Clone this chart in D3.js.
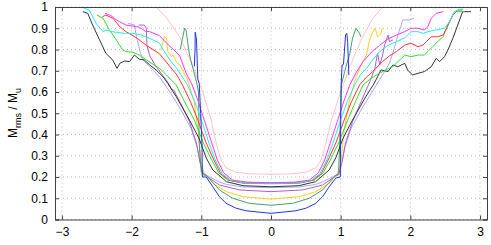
<!DOCTYPE html>
<html>
<head>
<meta charset="utf-8">
<script src="https://cdn.jsdelivr.net/npm/d3@7"></script>
<style>
  body { margin: 0; background: #fff; }
  svg text { font-family: "Liberation Sans", Arial, sans-serif; font-size: 12px; fill: #000; }
</style>
</head>
<body>
<svg id="chart" width="491" height="245"></svg>
<script>
// tick values
let xTicks = [-3, -2, -1, 0, 1, 2, 3];
let yTicks = [0, 0.1, 0.2, 0.3, 0.4, 0.5, 0.6, 0.7, 0.8, 0.9, 1];

// one profile per run, [x, Mrms/Mu]
let pinkRun = [[-1.65,1.0],[-1.5,0.95],[-1.31,0.86],[-1.12,0.72],[-0.98,0.6],[-0.86,0.47],[-0.78,0.35],[-0.715,0.28],[-0.65,0.245],[-0.5,0.222],[-0.3,0.215],[0,0.213],
  [0.3,0.215],[0.5,0.222],[0.65,0.245],[0.72,0.28],[0.79,0.36],[0.87,0.47],[1.0,0.6],[1.12,0.71],[1.3,0.85],[1.45,0.94],[1.6,1.0]];

let magentaRun = [[-2.38,0.97],[-2.3,0.96],[-2.22,0.94],[-2.17,0.93],[-2.08,0.915],[-1.98,0.91],[-1.89,0.905],[-1.8,0.885],[-1.74,0.884],[-1.6,0.865],[-1.5,0.83],[-1.4,0.8],[-1.31,0.77],[-1.22,0.69],[-1.13,0.633],[-1.05,0.56],[-0.96,0.47],[-0.86,0.37],[-0.77,0.28],[-0.68,0.22],[-0.55,0.185],[-0.35,0.176],[0,0.173],
  [0.35,0.176],[0.55,0.185],[0.68,0.22],[0.77,0.28],[0.86,0.37],[0.96,0.47],[1.05,0.56],[1.13,0.633],[1.22,0.69],[1.32,0.743],[1.45,0.79],[1.56,0.82],[1.68,0.85],[1.8,0.868],[1.92,0.884],[2.01,0.9],[2.11,0.9],[2.2,0.892],[2.25,0.907],[2.3,0.947],[2.37,0.97],[2.47,0.978]];

let cyanRun = [[-2.72,1.0],[-2.61,0.986],[-2.51,0.923],[-2.45,0.9],[-2.41,0.884],[-2.37,0.892],[-2.3,0.885],[-2.2,0.88],[-2.1,0.876],[-1.98,0.876],[-1.88,0.87],[-1.79,0.86],[-1.6,0.83],[-1.55,0.8],[-1.45,0.75],[-1.35,0.71],[-1.27,0.67],[-1.2,0.633],[-1.1,0.56],[-1.0,0.47],[-0.9,0.37],[-0.8,0.28],[-0.7,0.215],[-0.58,0.185],[-0.4,0.172],[0,0.17],
  [0.4,0.172],[0.58,0.185],[0.7,0.215],[0.8,0.28],[0.9,0.37],[1.0,0.47],[1.1,0.56],[1.2,0.633],[1.28,0.68],[1.37,0.711],[1.47,0.755],[1.56,0.79],[1.68,0.82],[1.8,0.837],[1.92,0.855],[2.01,0.884],[2.11,0.884],[2.18,0.876],[2.25,0.884],[2.37,0.892],[2.49,0.9],[2.56,0.93],[2.63,0.978],[2.71,0.99],[2.76,0.99]];

let redRun = [[-2.42,0.954],[-2.37,0.962],[-2.27,0.947],[-2.17,0.907],[-2.08,0.884],[-1.93,0.855],[-1.79,0.82],[-1.6,0.78],[-1.45,0.72],[-1.35,0.68],[-1.27,0.633],[-1.15,0.55],[-1.05,0.468],[-0.93,0.36],[-0.82,0.28],[-0.72,0.215],[-0.6,0.185],[-0.4,0.172],[0,0.17],
  [0.4,0.172],[0.6,0.185],[0.72,0.215],[0.82,0.28],[0.93,0.36],[1.05,0.468],[1.15,0.55],[1.27,0.633],[1.37,0.67],[1.46,0.696],[1.6,0.743],[1.7,0.77],[1.8,0.79],[1.92,0.821],[2.01,0.829],[2.11,0.813],[2.18,0.821],[2.23,0.837],[2.3,0.86],[2.39,0.86],[2.47,0.868],[2.54,0.915],[2.61,0.962],[2.68,0.986],[2.75,0.986]];

let greenRun = [[-2.5,0.962],[-2.41,0.947],[-2.32,0.892],[-2.22,0.845],[-2.13,0.798],[-2.08,0.79],[-1.98,0.787],[-1.89,0.774],[-1.79,0.751],[-1.6,0.711],[-1.5,0.68],[-1.36,0.633],[-1.25,0.56],[-1.1,0.468],[-0.97,0.36],[-0.85,0.28],[-0.75,0.22],[-0.62,0.185],[-0.4,0.171],[0,0.168],
  [0.4,0.171],[0.62,0.185],[0.75,0.22],[0.85,0.28],[0.97,0.36],[1.1,0.468],[1.22,0.56],[1.32,0.633],[1.42,0.66],[1.51,0.68],[1.65,0.704],[1.75,0.72],[1.87,0.758],[1.92,0.774],[2.01,0.766],[2.11,0.774],[2.2,0.774],[2.25,0.79],[2.32,0.813],[2.39,0.837],[2.47,0.86],[2.54,0.915],[2.61,0.962],[2.66,0.978],[2.78,0.978]];

let blackRun = [[-2.7,0.978],[-2.63,0.97],[-2.56,0.915],[-2.46,0.845],[-2.37,0.782],[-2.27,0.75],[-2.21,0.711],[-2.17,0.735],[-2.1,0.746],[-2.03,0.743],[-1.96,0.774],[-1.89,0.754],[-1.82,0.751],[-1.74,0.727],[-1.65,0.704],[-1.55,0.672],[-1.48,0.64],[-1.36,0.578],[-1.17,0.468],[-1.03,0.38],[-0.93,0.29],[-0.835,0.233],[-0.64,0.178],[-0.4,0.159],[0,0.154],
  [0.4,0.159],[0.64,0.178],[0.835,0.233],[0.93,0.29],[1.03,0.38],[1.17,0.468],[1.36,0.578],[1.48,0.64],[1.58,0.704],[1.68,0.696],[1.75,0.727],[1.82,0.719],[1.92,0.735],[1.96,0.704],[2.03,0.68],[2.11,0.688],[2.2,0.696],[2.3,0.719],[2.37,0.758],[2.42,0.743],[2.49,0.766],[2.54,0.798],[2.61,0.853],[2.68,0.915],[2.75,0.978],[2.87,0.978]];

let lightBlueRun = [[-2.05,0.923],[-1.96,0.915],[-1.93,0.86],[-1.88,0.79],[-1.84,0.751],[-1.74,0.719],[-1.6,0.67],[-1.45,0.6],[-1.3,0.52],[-1.15,0.43],[-1.06,0.34],[-1.01,0.26],[-0.97,0.215],[-0.88,0.2],[-0.75,0.178],[-0.64,0.165],[-0.4,0.153],[0,0.15],
  [0.4,0.153],[0.64,0.165],[0.75,0.178],[0.88,0.2],[0.97,0.215],[1.01,0.26],[1.06,0.34],[1.15,0.43],[1.3,0.52],[1.45,0.6],[1.6,0.68],[1.7,0.735],[1.77,0.806],[1.82,0.868],[1.87,0.915],[1.89,0.939],[1.99,0.939],[2.05,0.947]];

let purpleRun = [[-1.9,0.915],[-1.82,0.915],[-1.79,0.9],[-1.78,0.82],[-1.74,0.77],[-1.65,0.72],[-1.5,0.655],[-1.45,0.63],[-1.43,0.615],[-1.4,0.61],[-1.3,0.55],[-1.17,0.46],[-1.07,0.36],[-1.02,0.27],[-0.97,0.21],[-0.93,0.205],[-0.74,0.162],[-0.45,0.139],[0,0.131],
  [0.45,0.139],[0.74,0.162],[0.93,0.205],[0.97,0.21],[1.02,0.27],[1.07,0.36],[1.17,0.46],[1.3,0.56],[1.42,0.65],[1.49,0.711],[1.53,0.782],[1.56,0.727],[1.6,0.77],[1.63,0.821],[1.68,0.868],[1.7,0.837],[1.75,0.845]];

let yellowRun = [[-1.6,0.8],[-1.58,0.798],[-1.53,0.86],[-1.5,0.853],[-1.48,0.79],[-1.43,0.766],[-1.41,0.774],[-1.36,0.743],[-1.31,0.727],[-1.2,0.66],[-1.1,0.55],[-1.04,0.4],[-1.0,0.26],[-0.955,0.217],[-0.835,0.17],[-0.64,0.131],[-0.4,0.107],[0,0.096],
  [0.4,0.107],[0.64,0.131],[0.835,0.17],[0.955,0.217],[1.0,0.26],[1.05,0.42],[1.12,0.55],[1.2,0.65],[1.27,0.711],[1.32,0.743],[1.37,0.774],[1.41,0.837],[1.44,0.868],[1.49,0.9],[1.51,0.884],[1.53,0.86],[1.58,0.876],[1.6,0.9]];

let darkGreenRun = [[-1.3,0.8],[-1.29,0.821],[-1.24,0.9],[-1.22,0.892],[-1.17,0.774],[-1.12,0.711],[-1.07,0.648],[-1.04,0.6],[-1.03,0.35],[-1.0,0.22],[-0.93,0.209],[-0.74,0.139],[-0.55,0.1],[-0.31,0.076],[0,0.067],
  [0.31,0.076],[0.55,0.1],[0.74,0.139],[0.93,0.209],[0.97,0.215],[0.99,0.4],[1.01,0.633],[1.06,0.7],[1.13,0.78],[1.17,0.853],[1.22,0.9],[1.27,0.876],[1.29,0.86]];

let blueRun = [[-1.1,0.72],[-1.09,0.8],[-1.088,0.881],[-1.07,0.85],[-1.05,0.66],[-1.03,0.64],[-1.01,0.5],[-0.99,0.35],[-0.985,0.2],[-0.93,0.2],[-0.835,0.154],[-0.739,0.107],[-0.643,0.076],[-0.5,0.053],[-0.356,0.041],[0,0.029],
  [0.356,0.041],[0.5,0.053],[0.643,0.076],[0.739,0.107],[0.835,0.154],[0.93,0.195],[0.995,0.2],[1.0,0.45],[1.007,0.633],[1.02,0.727],[1.04,0.73],[1.07,0.868],[1.088,0.876],[1.1,0.837],[1.117,0.68]];

let runs = [
  {data: pinkRun, color: "#ffc4c4"},
  {data: lightBlueRun, color: "#a8a8ff"},
  {data: purpleRun, color: "#b060c0"},
  {data: yellowRun, color: "#ffcc22"},
  {data: darkGreenRun, color: "#44a066"},
  {data: blackRun, color: "#333333"},
  {data: greenRun, color: "#33dd33"},
  {data: redRun, color: "#ff3333"},
  {data: cyanRun, color: "#22eeee"},
  {data: magentaRun, color: "#ff33ff"},
  {data: blueRun, color: "#2233ee"}
];

let svg = d3.select("#chart");

let x = d3.scaleLinear().domain([-3.1, 3.1]).range([55, 487]);
let y = d3.scaleLinear().domain([0, 1]).range([219.5, 7]);

// dotted grid
svg.append("g").selectAll("line.gx")
  .data(xTicks).enter().append("line")
  .attr("x1", d => x(d)).attr("x2", d => x(d))
  .attr("y1", y(0)).attr("y2", y(1))
  .attr("stroke", "#bbb").attr("stroke-dasharray", "1,3");

svg.append("g").selectAll("line.gy")
  .data(yTicks).enter().append("line")
  .attr("x1", x.range()[0]).attr("x2", x.range()[1])
  .attr("y1", d => y(d)).attr("y2", d => y(d))
  .attr("stroke", "#bbb").attr("stroke-dasharray", "1,3");

let line = d3.line().x(d => x(d[0])).y(d => y(d[1]));

svg.append("g").selectAll("path")
  .data(runs).enter().append("path")
  .attr("d", d => line(d.data))
  .attr("fill", "none")
  .attr("stroke", d => d.color)
  .attr("stroke-width", 1);

// box + ticks
let xAxis = d3.axisBottom(x).tickValues(xTicks).tickSize(-4).tickPadding(8).tickFormat(d => d < 0 ? "\u2212" + Math.abs(d) : d);
let yAxis = d3.axisLeft(y).tickValues(yTicks).tickSize(-4).tickPadding(7).tickFormat(d => d);

let gx = svg.append("g").attr("transform", "translate(0," + y(0) + ")").call(xAxis);
let gy = svg.append("g").attr("transform", "translate(" + x.range()[0] + ",0)").call(yAxis);
svg.append("g").attr("transform", "translate(0," + y(1) + ")")
  .call(d3.axisTop(x).tickValues(xTicks).tickSize(-4).tickFormat(""));
svg.append("g").attr("transform", "translate(" + x.range()[1] + ",0)")
  .call(d3.axisRight(y).tickValues(yTicks).tickSize(-4).tickFormat(""));

svg.selectAll(".domain").attr("stroke", "#404040");
svg.selectAll(".tick line").attr("stroke", "#404040");
svg.selectAll(".tick text").style("font-size", "12px").attr("fill", "#000");

// y label
let yl = svg.append("text")
  .attr("transform", "translate(17,113) rotate(-90)")
  .attr("text-anchor", "middle");
yl.append("tspan").text("M");
yl.append("tspan").text("rms").attr("dy", 4).style("font-size", "9px");
yl.append("tspan").text(" / M").attr("dy", -4);
yl.append("tspan").text("u").attr("dy", 4).style("font-size", "9px");
</script>
</body>
</html>
